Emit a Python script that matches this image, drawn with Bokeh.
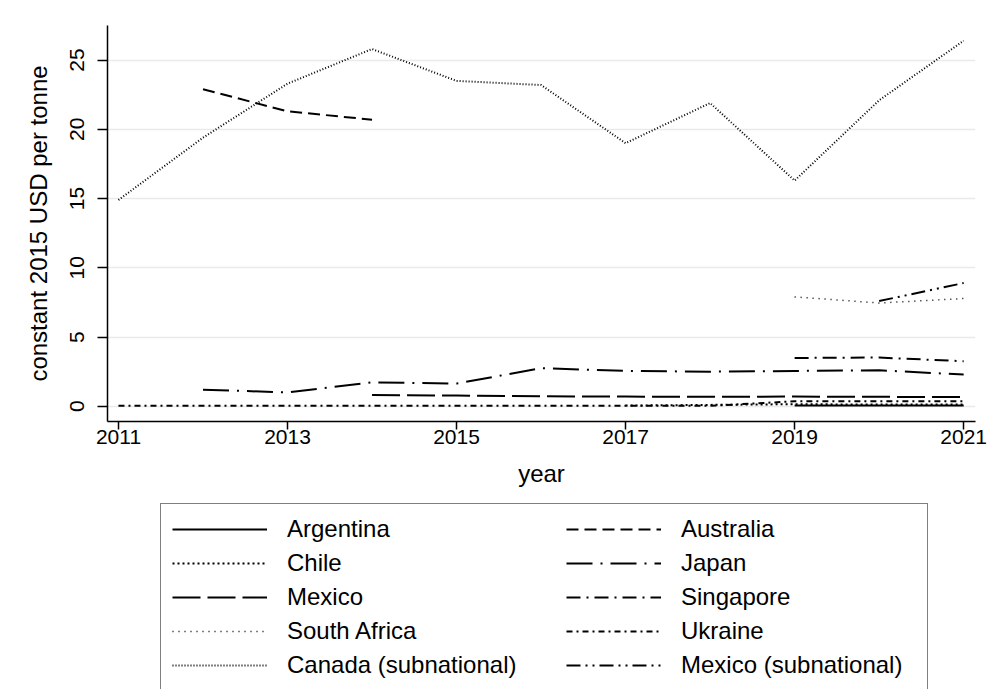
from bokeh.plotting import figure
from bokeh.models import Legend, LegendItem, FixedTicker, Range1d
from bokeh.layouts import column
from bokeh.embed import file_html
from bokeh.resources import INLINE

# ---- data (constant 2015 USD per tonne) ----
years_argentina = [2019, 2020, 2021]
argentina = [0.05, 0.05, 0.05]

years_australia = [2012, 2013, 2014]
australia = [22.9, 21.3, 20.7]

years_chile = [2017, 2018, 2019, 2020, 2021]
chile = [0.05, 0.1, 0.15, 0.12, 0.12]

years_japan = [2012, 2013, 2014, 2015, 2016, 2017, 2018, 2019, 2020, 2021]
japan = [1.2, 1.0, 1.73, 1.64, 2.75, 2.55, 2.5, 2.55, 2.6, 2.29]

years_mexico = [2014, 2015, 2016, 2017, 2018, 2019, 2020, 2021]
mexico = [0.82, 0.77, 0.72, 0.7, 0.68, 0.7, 0.68, 0.67]

years_singapore = [2019, 2020, 2021]
singapore = [3.49, 3.52, 3.25]

years_south_africa = [2019, 2020, 2021]
south_africa = [7.9, 7.46, 7.78]

years_ukraine = [2011, 2012, 2013, 2014, 2015, 2016, 2017, 2018, 2019, 2020, 2021]
ukraine = [0.03, 0.03, 0.03, 0.03, 0.03, 0.03, 0.03, 0.03, 0.36, 0.36, 0.36]

years_canada_sub = [2011, 2012, 2013, 2014, 2015, 2016, 2017, 2018, 2019, 2020, 2021]
canada_sub = [14.9, 19.4, 23.3, 25.8, 23.5, 23.2, 19.0, 21.9, 16.3, 22.1, 26.4]

years_mexico_sub = [2020, 2021]
mexico_sub = [7.6, 8.9]

x_ticks = [2011, 2013, 2015, 2017, 2019, 2021]
y_ticks = [0, 5, 10, 15, 20, 25]

FONT = "Liberation Sans"

p = figure(width=992, height=497, output_backend="svg", toolbar_location=None,
           x_range=Range1d(2010.87, 2021.14), y_range=Range1d(-1.1, 27.5),
           min_border_left=107, min_border_right=17, min_border_top=25,
           min_border_bottom=76)
p.outline_line_color = None
p.background_fill_color = "white"
p.border_fill_color = "white"

p.xgrid.grid_line_color = None
p.ygrid.grid_line_color = "#eaeaea"
p.ygrid.grid_line_width = 1.5
p.ygrid.ticker = FixedTicker(ticks=y_ticks)

p.xaxis.ticker = FixedTicker(ticks=x_ticks)
p.yaxis.ticker = FixedTicker(ticks=y_ticks)
for ax in (p.xaxis[0], p.yaxis[0]):
    ax.axis_line_color = "black"
    ax.axis_line_width = 1.5
    ax.major_tick_line_color = "black"
    ax.major_tick_line_width = 1.5
    ax.minor_tick_line_color = None
    ax.major_tick_in = 0
    ax.major_label_text_font = FONT
    ax.major_label_text_font_size = "21px"
    ax.major_label_text_color = "black"
    ax.axis_label_text_font = FONT
    ax.axis_label_text_font_size = "24px"
    ax.axis_label_text_font_style = "normal"
    ax.axis_label_text_color = "black"

p.xaxis.major_tick_out = 8
p.xaxis.major_label_standoff = 0
p.xaxis.axis_label = "year"
p.xaxis.axis_label_standoff = 13

p.yaxis.major_tick_out = 10
p.yaxis.major_label_orientation = "vertical"
p.yaxis.major_label_standoff = 13
p.yaxis.axis_label = "constant 2015 USD per tonne"
p.yaxis.axis_label_standoff = 16

series = [
    ("Argentina", years_argentina, argentina, "solid", 2),
    ("Australia", years_australia, australia, "12 6", 2),
    ("Chile", years_chile, chile, "2 3", 2),
    ("Japan", years_japan, japan, "26 8 2 8", 2),
    ("Mexico", years_mexico, mexico, "28 7", 2),
    ("Singapore", years_singapore, singapore, "14 6 2 6", 2),
    ("South Africa", years_south_africa, south_africa, "1 5", 1.5),
    ("Ukraine", years_ukraine, ukraine, "6 4 2 4", 2),
    ("Canada (subnational)", years_canada_sub, canada_sub, "1 2", 2),
    ("Mexico (subnational)", years_mexico_sub, mexico_sub, "14 5 2 5 2 5", 2),
]

for name, xs, ys, dash, w in series:
    p.line(xs, ys, line_color="black", line_width=w, line_dash=dash)

# ---- legend panel (below the plot); its frame lines up with the plot frame ----
lp = figure(width=992, height=192, output_backend="svg", toolbar_location=None,
            x_range=Range1d(0, 1), y_range=Range1d(0, 1),
            x_axis_type=None, y_axis_type=None,
            min_border_left=107, min_border_right=17, min_border_top=0,
            min_border_bottom=0)
lp.outline_line_color = None
lp.grid.visible = False
lp.background_fill_color = "white"
lp.border_fill_color = "white"

# legend keys: same series, drawn out of this panel's view (only used for the key glyphs)
keys = {}
for name, xs, ys, dash, w in series:
    keys[name] = lp.line(xs, ys, line_color="black", line_width=w, line_dash=dash)

left_names = ["Argentina", "Chile", "Mexico", "South Africa", "Canada (subnational)"]
right_names = ["Australia", "Japan", "Singapore", "Ukraine", "Mexico (subnational)"]


def make_legend(names, loc, border, label_width):
    return Legend(items=[LegendItem(label=n, renderers=[keys[n]]) for n in names],
                  location=loc, orientation="vertical",
                  glyph_width=95, glyph_height=28, label_height=28,
                  label_standoff=20, spacing=6, padding=11, margin=0,
                  label_width=label_width,
                  label_text_font=FONT, label_text_font_size="24px",
                  label_text_color="black",
                  border_line_color="black" if border else None,
                  border_line_width=1.2,
                  background_fill_color="white",
                  background_fill_alpha=1.0 if border else 0.0)


lp.add_layout(make_legend(left_names, (53, -2), True, 629), "center")
lp.add_layout(make_legend(right_names, (459, 10), False, 20), "center")

layout = column(p, lp, spacing=0)
open("out.html", "w").write(file_html(layout, INLINE))
